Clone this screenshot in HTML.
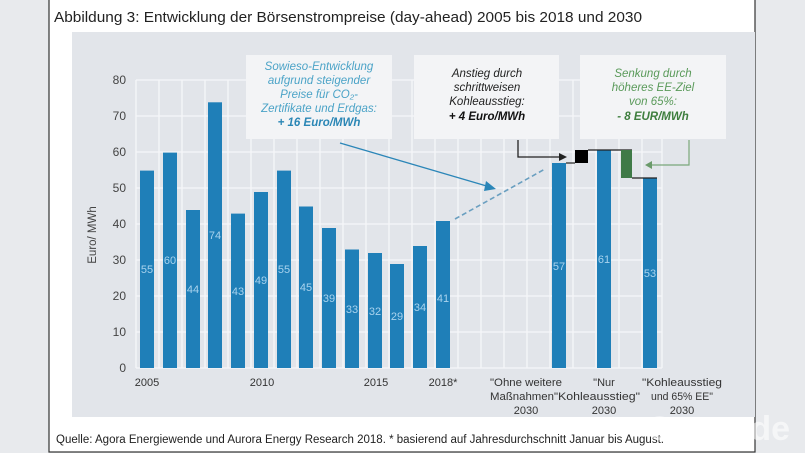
<!DOCTYPE html>
<html><head><meta charset="utf-8"><style>
html,body{margin:0;padding:0;background:#e8eaed;}
body{width:805px;height:453px;overflow:hidden;position:relative;font-family:"Liberation Sans",sans-serif;}
</style></head><body>
<svg width="805" height="453" xmlns="http://www.w3.org/2000/svg" style="position:absolute;left:0;top:0">
<rect x="0" y="0" width="805" height="453" fill="#e8eaed"/>
<rect x="49" y="-1" width="706" height="453" fill="#fff" stroke="#333" stroke-width="1.2"/>
<text x="54" y="22" font-size="14.5" fill="#222" textLength="588" lengthAdjust="spacingAndGlyphs">Abbildung 3: Entwicklung der Börsenstrompreise (day-ahead) 2005 bis 2018 und 2030</text>
<rect x="72" y="32" width="683" height="385" fill="#e2e5ea"/>
<g stroke="#f6f7f9" stroke-width="1.3">
<line x1="136" y1="368" x2="662" y2="368"/>
<line x1="136" y1="332" x2="662" y2="332"/>
<line x1="136" y1="296" x2="662" y2="296"/>
<line x1="136" y1="260" x2="662" y2="260"/>
<line x1="136" y1="224" x2="662" y2="224"/>
<line x1="136" y1="188" x2="662" y2="188"/>
<line x1="136" y1="152" x2="662" y2="152"/>
<line x1="136" y1="116" x2="662" y2="116"/>
<line x1="136" y1="80" x2="662" y2="80"/>
<line x1="136" y1="80" x2="136" y2="368"/><line x1="159" y1="80" x2="159" y2="368"/><line x1="182" y1="80" x2="182" y2="368"/><line x1="205" y1="80" x2="205" y2="368"/><line x1="228" y1="80" x2="228" y2="368"/><line x1="251" y1="80" x2="251" y2="368"/><line x1="274" y1="80" x2="274" y2="368"/><line x1="297" y1="80" x2="297" y2="368"/><line x1="320" y1="80" x2="320" y2="368"/><line x1="343" y1="80" x2="343" y2="368"/><line x1="366" y1="80" x2="366" y2="368"/><line x1="389" y1="80" x2="389" y2="368"/><line x1="412" y1="80" x2="412" y2="368"/><line x1="435" y1="80" x2="435" y2="368"/><line x1="458" y1="80" x2="458" y2="368"/><line x1="481" y1="80" x2="481" y2="368"/><line x1="504" y1="80" x2="504" y2="368"/><line x1="527" y1="80" x2="527" y2="368"/><line x1="550" y1="80" x2="550" y2="368"/><line x1="573" y1="80" x2="573" y2="368"/><line x1="596" y1="80" x2="596" y2="368"/><line x1="619" y1="80" x2="619" y2="368"/><line x1="642" y1="80" x2="642" y2="368"/><line x1="662" y1="80" x2="662" y2="368"/>
</g>
<g font-size="12" fill="#444" text-anchor="end">
<text x="126" y="372">0</text><text x="126" y="336">10</text><text x="126" y="300">20</text><text x="126" y="264">30</text><text x="126" y="228">40</text><text x="126" y="192">50</text><text x="126" y="156">60</text><text x="126" y="120">70</text><text x="126" y="84">80</text>
</g>
<text transform="translate(96,235) rotate(-90)" font-size="11.5" fill="#444" text-anchor="middle">Euro/ MWh</text>
<g fill="#1f7fb8">
<rect x="140" y="170.6" width="14" height="197.4"/>
<rect x="163" y="152.6" width="14" height="215.4"/>
<rect x="186" y="210" width="14" height="158"/>
<rect x="208" y="102.3" width="14" height="265.7"/>
<rect x="231" y="213.6" width="14" height="154.4"/>
<rect x="254" y="192" width="14" height="176"/>
<rect x="277" y="170.6" width="14" height="197.4"/>
<rect x="299" y="206.5" width="14" height="161.5"/>
<rect x="322" y="228" width="14" height="140"/>
<rect x="345" y="249.5" width="14" height="118.5"/>
<rect x="368" y="253" width="14" height="115"/>
<rect x="390" y="264" width="14" height="104"/>
<rect x="413" y="246" width="14" height="122"/>
<rect x="436" y="221" width="14" height="147"/>
<rect x="552" y="163" width="14" height="205"/>
<rect x="597" y="150" width="14" height="218"/>
<rect x="643" y="178" width="14" height="190"/>
</g>
<g font-size="11" fill="#a9d3ee" text-anchor="middle">
<text x="147" y="273">55</text><text x="170" y="264">60</text><text x="193" y="293">44</text><text x="215" y="239">74</text><text x="238" y="295">43</text><text x="261" y="284">49</text><text x="284" y="273">55</text><text x="306" y="291">45</text><text x="329" y="302">39</text><text x="352" y="313">33</text><text x="375" y="315">32</text><text x="397" y="320">29</text><text x="420" y="311">34</text><text x="443" y="302">41</text>
<text x="559" y="270">57</text><text x="604" y="263">61</text><text x="650" y="277">53</text>
</g>
<g font-size="11" fill="#333" text-anchor="middle">
<text x="147" y="386">2005</text><text x="262" y="386">2010</text><text x="376" y="386">2015</text><text x="443" y="386">2018*</text>
<text x="526" y="386" textLength="72" lengthAdjust="spacingAndGlyphs">"Ohne weitere</text>
<text x="490" y="400" text-anchor="start" textLength="68" lengthAdjust="spacingAndGlyphs">Maßnahmen"</text><text x="526" y="414">2030</text>
<text x="604" y="386">"Nur</text><text x="558" y="400" text-anchor="start" textLength="82" lengthAdjust="spacingAndGlyphs">Kohleausstieg"</text><text x="604" y="414">2030</text>
<text x="682" y="386" textLength="80" lengthAdjust="spacingAndGlyphs">"Kohleausstieg</text><text x="682" y="400" textLength="62" lengthAdjust="spacingAndGlyphs">und 65% EE"</text><text x="682" y="414">2030</text>
</g>
<rect x="246" y="55" width="146" height="84" fill="#f3f4f6"/>
<rect x="414" y="55" width="145" height="84" fill="#f3f4f6"/>
<rect x="580" y="55" width="146" height="84" fill="#f3f4f6"/>
<g font-size="11.5" font-style="italic" text-anchor="middle">
<text x="319" y="70" fill="#4ba3c7">Sowieso-Entwicklung</text>
<text x="319" y="84" fill="#4ba3c7">aufgrund steigender</text>
<text x="319" y="98" fill="#4ba3c7">Preise für CO₂-</text>
<text x="319" y="112" fill="#4ba3c7">Zertifikate und Erdgas:</text>
<text x="319" y="126" fill="#2a86b5" font-weight="bold">+ 16 Euro/MWh</text>
<text x="487" y="77" fill="#222">Anstieg durch</text>
<text x="487" y="91" fill="#222">schrittweisen</text>
<text x="487" y="105" fill="#222">Kohleausstieg:</text>
<text x="487" y="120" fill="#111" font-weight="bold">+ 4 Euro/MWh</text>
<text x="653" y="77" fill="#5a9a5a">Senkung durch</text>
<text x="653" y="91" fill="#5a9a5a">höheres EE-Ziel</text>
<text x="653" y="105" fill="#5a9a5a">von 65%:</text>
<text x="653" y="120" fill="#3e7e3e" font-weight="bold">- 8 EUR/MWh</text>
</g>
<line x1="340" y1="143" x2="490" y2="187" stroke="#2b86b8" stroke-width="1.3"/>
<polygon points="496,189 486,181 484,191" fill="#2b86b8"/>
<line x1="455" y1="219" x2="545" y2="169" stroke="#6a9fc0" stroke-width="1.6" stroke-dasharray="5,3"/>
<polyline points="518,140 518,157 562,157" fill="none" stroke="#222" stroke-width="1.3"/>
<polygon points="567,157 559,153 559,161" fill="#222"/>
<line x1="566" y1="163" x2="575" y2="163" stroke="#222" stroke-width="1.2"/>
<rect x="575" y="150" width="13" height="13" fill="#000"/>
<line x1="588" y1="150" x2="632" y2="150" stroke="#222" stroke-width="1.2"/>
<rect x="621" y="150" width="11" height="28" fill="#3f7a47"/>
<line x1="632" y1="178" x2="657" y2="178" stroke="#222" stroke-width="1.2"/>
<polyline points="689,140 689,165 650,165" fill="none" stroke="#7aa87a" stroke-width="1.2"/>
<polygon points="645,165 652,161 652,169" fill="#6a9a6a"/>
<text x="56" y="443" font-size="11.5" fill="#222">Quelle: Agora Energiewende und Aurora Energy Research 2018. * basierend auf Jahresdurchschnitt Januar bis August.</text>
<text x="790" y="440" font-size="34" font-weight="bold" fill="#ffffff" fill-opacity="0.55" text-anchor="end">Onetz.de</text>
</svg>
</body></html>
